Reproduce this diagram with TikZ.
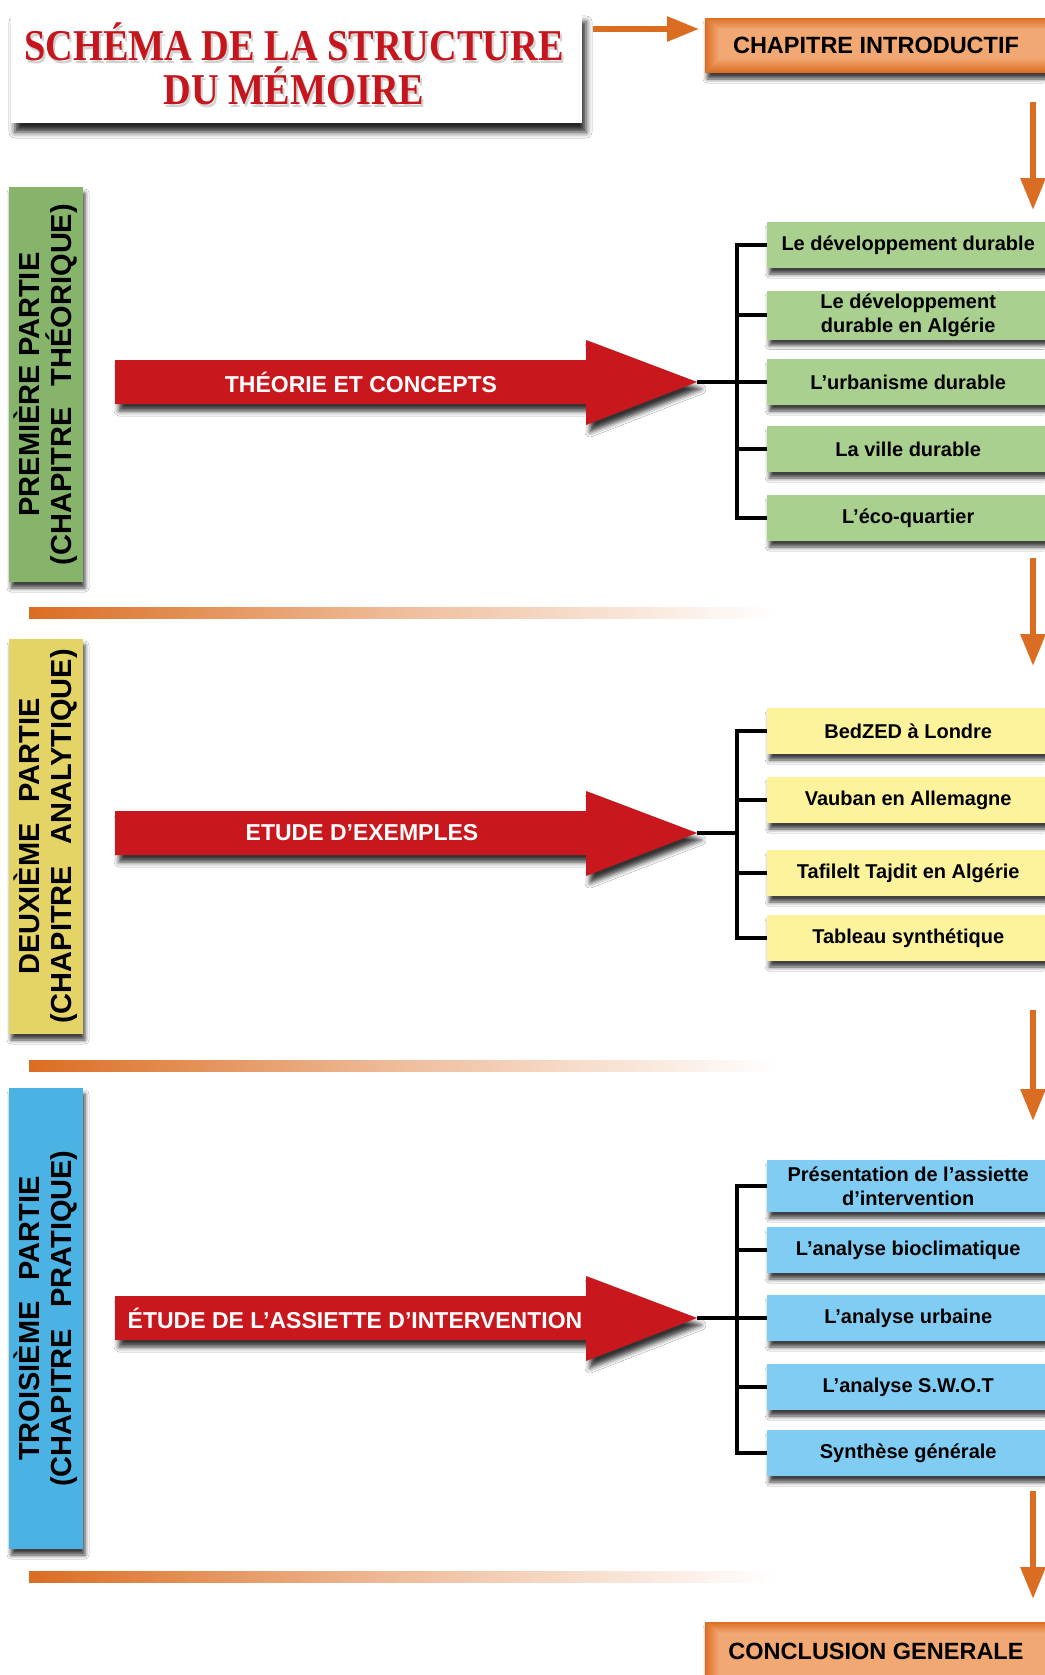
\documentclass[tikz,border=0pt]{standalone}
\usepackage{fontspec}
\setmainfont{Liberation Sans}
\newfontfamily\titlefont{Liberation Serif}
\usetikzlibrary{shadows.blur,arrows.meta}
\definecolor{redA}{HTML}{C8181E}
\definecolor{titleRed}{HTML}{C4161C}
\definecolor{orA}{HTML}{DB6D22}
\definecolor{orB}{HTML}{DD7229}
\definecolor{orL}{HTML}{F1A873}
\definecolor{grL}{HTML}{86B46A}
\definecolor{grB}{HTML}{A9D08E}
\definecolor{yeL}{HTML}{E4D466}
\definecolor{yeB}{HTML}{FDF39C}
\definecolor{blL}{HTML}{4BB3E3}
\definecolor{blB}{HTML}{80CCF2}
\tikzset{
  shad/.style={blur shadow={shadow xshift=2pt, shadow yshift=-6pt, shadow blur radius=4pt, shadow opacity=75}},
  subbox/.style={shad, anchor=west, minimum width=282pt, minimum height=46pt, inner sep=0pt, align=center, font=\fontsize{20}{24}\selectfont\bfseries},
  labelbox/.style={shad, minimum width=74pt, inner sep=0pt},
  labeltext/.style={rotate=90, align=center, font=\fontsize{29}{32}\selectfont\bfseries},
  arrowtext/.style={text=white, font=\fontsize{23}{26}\selectfont\bfseries},
  brk/.style={line width=3.5pt},
  oarrow/.style={draw=orA, line width=6pt, -{Triangle[length=32pt,width=24pt]}},
  sep/.style={left color=orA, right color=white, middle color=orA!45},
  heading/.style={font=\fontsize{23.5}{27}\selectfont\bfseries},
  titletext/.style={text=titleRed, font=\titlefont\fontsize{44}{48}\selectfont\bfseries, xscale=0.87},
  titleshadow/.style={text=black, opacity=0.18, font=\titlefont\fontsize{44}{48}\selectfont\bfseries, xscale=0.87},
}
\newcommand\bigarrow[2]{%
  \fill[redA, blur shadow={shadow xshift=4pt, shadow yshift=-7pt, shadow blur radius=5pt, shadow opacity=80}] (115,#2-22) -- (586,#2-22) -- (586,#2-42) -- (697,#2) -- (586,#2+43) -- (586,#2+22) -- (115,#2+22) -- cycle;
  \coordinate (#1) at (697,#2);
}
\newcommand\glowbox[2]{% top, bottom
  \fill[shad, orA] (705,#1) rectangle (1050,#2);
  \foreach \k [evaluate=\k as \pc using int(100-\k*100/14)] in {0,...,14}
    \fill[orA!\pc!orL] (705+\k,#1+0.8*\k) rectangle (1050,#2-\k);
}
\begin{document}
\begin{tikzpicture}[x=1pt,y=-1pt]
\useasboundingbox[fill=white] (0,0) rectangle (1044,1675);

% ---------- title ----------
\node[fill=white, minimum width=571pt, minimum height=110pt, inner sep=0pt,
  blur shadow={shadow xshift=4pt, shadow yshift=-9pt, shadow blur radius=6pt, shadow opacity=85}] (title) at (296.5,68) {};
\node[titleshadow] (t1s) at (296,45) {SCHÉMA DE LA STRUCTURE};
\node[titleshadow] (t2s) at (296,89) {DU MÉMOIRE};
\node[titletext] (t1) at (294,42) {SCHÉMA DE LA STRUCTURE};
\node[titletext] (t2) at (294,86) {DU MÉMOIRE};

% ---------- introduction ----------
\glowbox{18}{73}
\node[heading] (intro) at (876,45.5) {CHAPITRE INTRODUCTIF};
\coordinate (ta) at (593,29);
\coordinate (tb) at (699,29);
\draw[oarrow] (ta) -- (tb);

% ---------- down arrows ----------
\coordinate (d1a) at (1033,102);  \coordinate (d1b) at (1033,210);
\coordinate (d2a) at (1033,558);  \coordinate (d2b) at (1033,666);
\coordinate (d3a) at (1033,1010); \coordinate (d3b) at (1033,1121);
\coordinate (d4a) at (1033,1491); \coordinate (d4b) at (1033,1599);
\draw[oarrow] (d1a) -- (d1b);
\draw[oarrow] (d2a) -- (d2b);
\draw[oarrow] (d3a) -- (d3b);
\draw[oarrow] (d4a) -- (d4b);

% ---------- separators ----------
\shade[sep] (29,607) rectangle (775,618);
\shade[sep] (29,1060) rectangle (775,1071);
\shade[sep] (29,1571) rectangle (775,1582);

% ---------- part 1 ----------
\node[labelbox, fill=grL, minimum height=395pt] (p1) at (46,384.5) {};
\node[labeltext] (p1t) at (p1.center) {PREMIÈRE PARTIE\\(CHAPITRE\hspace{0.45em} THÉORIQUE)};
\bigarrow{a1}{382}
\node[arrowtext] (a1t) at (361,382) {THÉORIE ET CONCEPTS};
\node[subbox, fill=grB] (g1) at (767,245) {Le développement durable};
\node[subbox, fill=grB, minimum height=49pt] (g2) at (767,315) {Le développement\\durable en Algérie};
\node[subbox, fill=grB] (g3) at (767,382) {L’urbanisme durable};
\node[subbox, fill=grB] (g4) at (767,449) {La ville durable};
\node[subbox, fill=grB] (g5) at (767,518) {L’éco-quartier};
\coordinate (j1) at (737,382);
\draw[brk] (a1) -- (g3.west);
\draw[brk] (g1.west) -| (j1);
\draw[brk] (g5.west) -| (j1);
\draw[brk] (g2.west) -- (g2.west -| j1);
\draw[brk] (g4.west) -- (g4.west -| j1);

% ---------- part 2 ----------
\node[labelbox, fill=yeL, minimum height=395pt] (p2) at (46,836.5) {};
\node[labeltext] (p2t) at (p2.center) {DEUXIÈME\hspace{0.45em} PARTIE\\(CHAPITRE\hspace{0.45em} ANALYTIQUE)};
\bigarrow{a2}{833}
\node[arrowtext] (a2t) at (362,833) {ETUDE D’EXEMPLES};
\node[subbox, fill=yeB] (y1) at (767,731) {BedZED à Londre};
\node[subbox, fill=yeB] (y2) at (767,800) {Vauban en Allemagne};
\node[subbox, fill=yeB] (y3) at (767,873) {Tafilelt Tajdit en Algérie};
\node[subbox, fill=yeB] (y4) at (767,938) {Tableau synthétique};
\coordinate (j2) at (737,833);
\draw[brk] (a2) -- (j2);
\draw[brk] (y1.west) -| (j2);
\draw[brk] (y4.west) -| (j2);
\draw[brk] (y2.west) -- (y2.west -| j2);
\draw[brk] (y3.west) -- (y3.west -| j2);

% ---------- part 3 ----------
\node[labelbox, fill=blL, minimum height=461pt] (p3) at (46,1318.5) {};
\node[labeltext] (p3t) at (p3.center) {TROISIÈME\hspace{0.45em} PARTIE\\(CHAPITRE\hspace{0.45em} PRATIQUE)};
\bigarrow{a3}{1318}
\node[arrowtext] (a3t) at (355,1318) {ÉTUDE DE L’ASSIETTE D’INTERVENTION};
\node[subbox, fill=blB, minimum height=52pt] (b1) at (767,1186) {Présentation de l’assiette\\d’intervention};
\node[subbox, fill=blB] (b2) at (767,1250) {L’analyse bioclimatique};
\node[subbox, fill=blB] (b3) at (767,1318) {L’analyse urbaine};
\node[subbox, fill=blB] (b4) at (767,1387) {L’analyse S.W.O.T};
\node[subbox, fill=blB] (b5) at (767,1453) {Synthèse générale};
\coordinate (j3) at (737,1318);
\draw[brk] (a3) -- (b3.west);
\draw[brk] (b1.west) -| (j3);
\draw[brk] (b5.west) -| (j3);
\draw[brk] (b2.west) -- (b2.west -| j3);
\draw[brk] (b4.west) -- (b4.west -| j3);

% ---------- conclusion ----------
\glowbox{1622}{1690}
\node[heading] (concl) at (876,1651) {CONCLUSION GENERALE};
\end{tikzpicture}
\end{document}
